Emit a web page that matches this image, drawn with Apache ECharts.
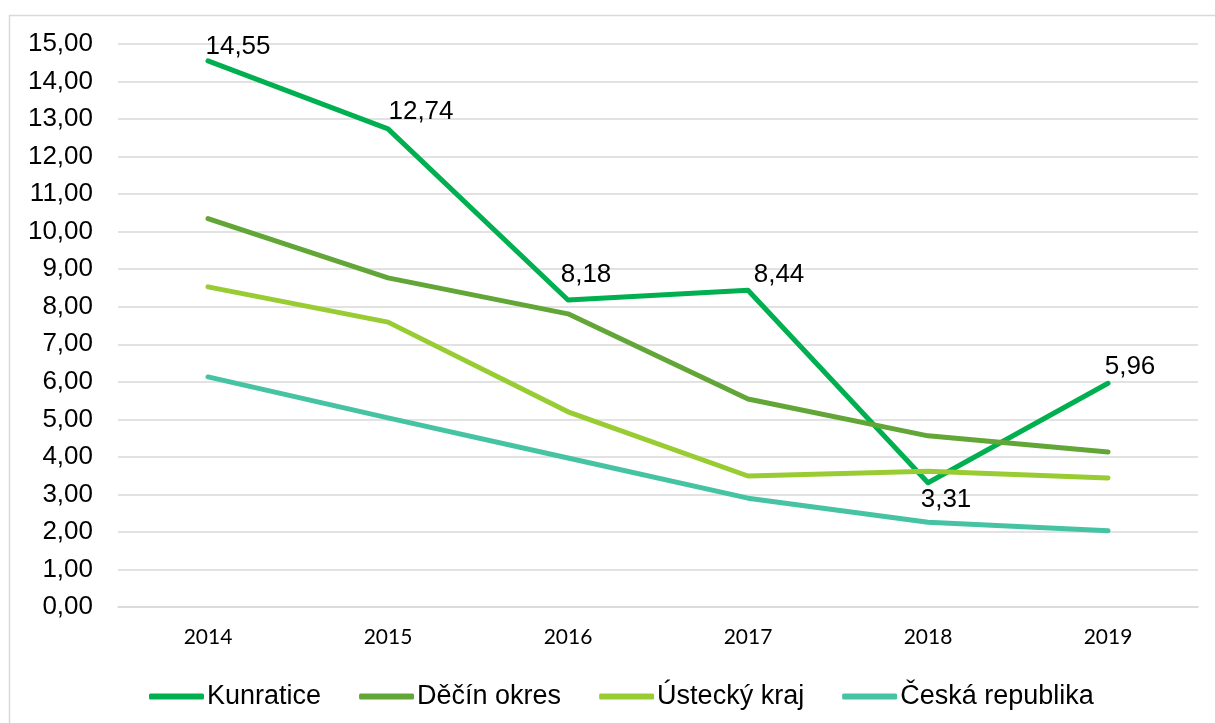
<!DOCTYPE html>
<html>
<head>
<meta charset="utf-8">
<script src="https://cdn.jsdelivr.net/npm/echarts@6/dist/echarts.min.js"></script>
<style>
  html, body { margin: 0; padding: 0; background: #fff; }
  #chart { width: 1215px; height: 723px; }
</style>
</head>
<body>
<div id="chart"></div>
<script>
// roky
const years = ['2014', '2015', '2016', '2017', '2018', '2019'];

// hodnoty řad
const kunratice = [14.55, 12.74, 8.18, 8.44, 3.31, 5.96];
const decinOkres = [10.35, 8.77, 7.81, 5.54, 4.56, 4.13];
const usteckyKraj = [8.53, 7.59, 5.20, 3.49, 3.62, 3.44];
const ceskaRepublika = [6.13, 5.04, 3.97, 2.90, 2.26, 2.03];

// posun popisků u Kunratic (jen styl)
const labelOffsets = [[30, -14], [33, -17], [18, -25], [31, -15], [18, 17], [22, -16]];

const fmt = v => Number(v).toFixed(2).replace('.', ',');

const chart = echarts.init(document.getElementById('chart'));

function lineSeries(name, data, color) {
  return {
    name: name,
    type: 'line',
    data: data,
    symbol: 'none',
    lineStyle: { width: 5, color: color, cap: 'round', join: 'round' },
    itemStyle: { color: color }
  };
}

const kunrSeries = lineSeries('Kunratice', kunratice.map((v, i) => ({
  value: v,
  label: { offset: labelOffsets[i] }
})), '#00b050');
kunrSeries.symbol = 'circle';
kunrSeries.symbolSize = 2;
kunrSeries.showSymbol = true;
kunrSeries.label = {
  show: true,
  position: 'inside',
  align: 'center',
  verticalAlign: 'middle',
  fontFamily: 'Liberation Sans, Arial',
  fontSize: 26,
  color: '#000',
  formatter: p => fmt(p.value)
};

const option = {
  animation: false,
  backgroundColor: '#fff',
  graphic: [{
    type: 'rect',
    shape: { x: 9.5, y: 15.5, width: 1300, height: 800 },
    style: { fill: 'none', stroke: '#d9d9d9', lineWidth: 1.5 },
    silent: true
  }],
  grid: { left: 118, right: 17, top: 44, bottom: 116 },
  legend: {
    left: 144,
    top: 678,
    icon: 'roundRect',
    itemWidth: 55,
    itemHeight: 6,
    itemGap: 38,
    textStyle: { fontFamily: 'Liberation Sans, Arial', fontSize: 27, color: '#000', padding: [0, 0, 0, -2] },
    data: ['Kunratice', 'Děčín okres', 'Ústecký kraj', 'Česká republika']
  },
  xAxis: {
    type: 'category',
    data: years,
    boundaryGap: true,
    axisLine: { show: true, lineStyle: { color: '#d9d9d9', width: 1.5 } },
    axisTick: { show: false },
    axisLabel: { margin: 20, fontFamily: 'Lato', fontSize: 21, color: '#000' }
  },
  yAxis: {
    type: 'value',
    min: 0,
    max: 15,
    interval: 1,
    axisLine: { show: false },
    axisTick: { show: false },
    splitLine: { lineStyle: { color: '#d9d9d9', width: 1.5 } },
    axisLabel: { margin: 25, fontFamily: 'Liberation Sans, Arial', fontSize: 26, color: '#000', formatter: fmt }
  },
  series: [
    kunrSeries,
    lineSeries('Děčín okres', decinOkres, '#63a638'),
    lineSeries('Ústecký kraj', usteckyKraj, '#99cc33'),
    lineSeries('Česká republika', ceskaRepublika, '#45c3a2')
  ]
};

chart.setOption(option);
</script>
</body>
</html>
